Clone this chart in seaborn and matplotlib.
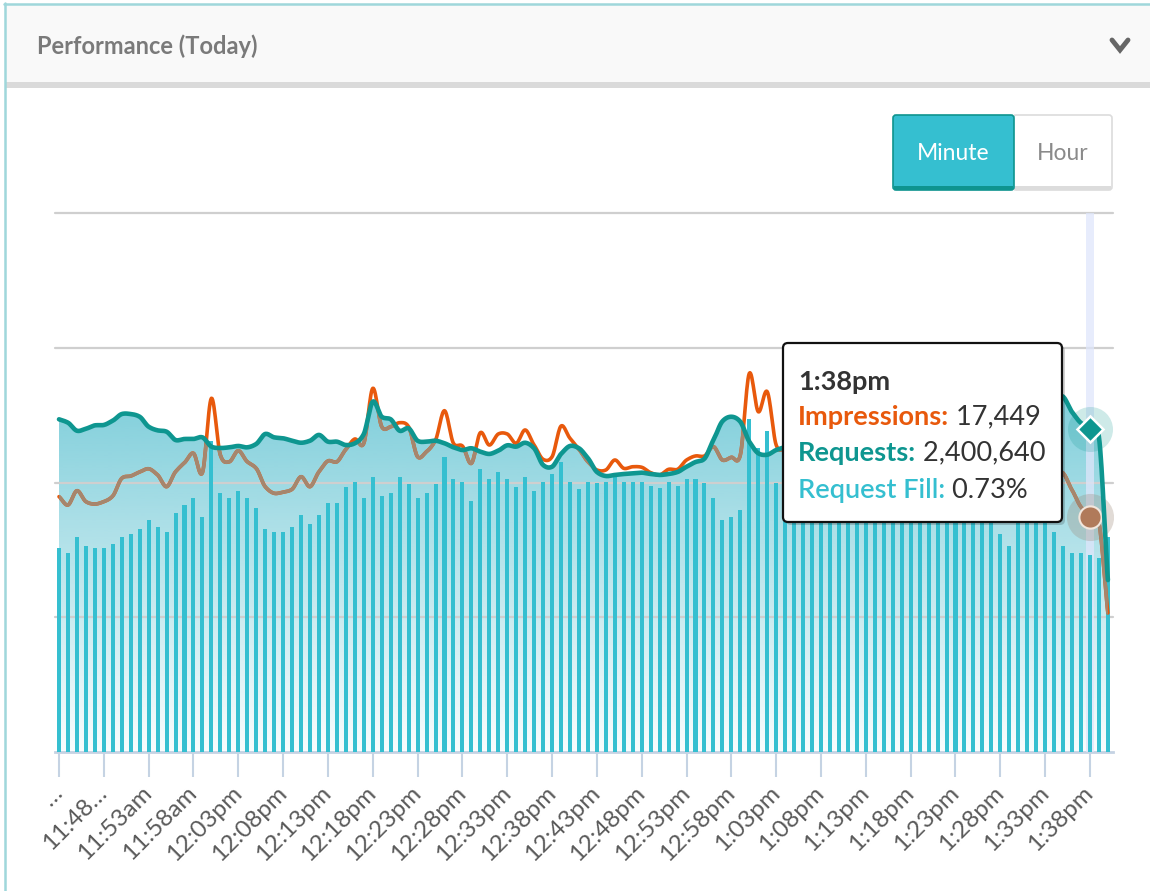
import numpy as np
import matplotlib
matplotlib.use("Agg")
import matplotlib.pyplot as plt
import seaborn as sns
from matplotlib.patches import Rectangle, FancyBboxPatch
from matplotlib.lines import Line2D
from matplotlib.text import Annotation
from matplotlib.transforms import IdentityTransform

# ---------------- data ----------------
# one point per minute, starting 11:43am
minute_offsets = list(range(118))

tick_minutes = list(range(0, 116, 5))
tick_labels = ["…", "11:48…", "11:53am", "11:58am", "12:03pm", "12:08pm", "12:13pm",
               "12:18pm", "12:23pm", "12:28pm", "12:33pm", "12:38pm", "12:43pm",
               "12:48pm", "12:53pm", "12:58pm", "1:03pm", "1:08pm", "1:13pm",
               "1:18pm", "1:23pm", "1:28pm", "1:33pm", "1:38pm"]

requests_m = [
    2.469, 2.444, 2.384, 2.399, 2.424, 2.427, 2.459, 2.508, 2.508, 2.488,
    2.414, 2.387, 2.377, 2.315, 2.323, 2.323, 2.335, 2.266, 2.256, 2.261,
    2.271, 2.261, 2.286, 2.360, 2.335, 2.328, 2.310, 2.295, 2.310, 2.353,
    2.303, 2.303, 2.278, 2.291, 2.360, 2.600, 2.488, 2.469, 2.384, 2.402,
    2.310, 2.303, 2.310, 2.291, 2.261, 2.241, 2.254, 2.229, 2.212, 2.236,
    2.276, 2.266, 2.295, 2.254, 2.130, 2.117, 2.212, 2.271, 2.254, 2.180,
    2.078, 2.048, 2.056, 2.063, 2.068, 2.073, 2.063, 2.056, 2.063, 2.078,
    2.117, 2.152, 2.177, 2.315, 2.454, 2.488, 2.451, 2.303, 2.217, 2.206,
    2.241, 2.263, 2.286, 2.315, 2.345, 2.375, 2.390, 2.404, 2.412, 2.419,
    2.427, 2.434, 2.434, 2.442, 2.449, 2.456, 2.464, 2.471, 2.479, 2.494,
    2.508, 2.523, 2.538, 2.553, 2.568, 2.583, 2.597, 2.612, 2.620, 2.627,
    2.635, 2.635, 2.637, 2.523, 2.442, 2.40064, 2.338, 1.276]

impressions_k = [
    18.95, 18.33, 19.39, 18.58, 18.40, 18.58, 19.00, 20.31, 20.48, 20.78,
    21.02, 20.56, 19.69, 20.80, 21.47, 22.17, 20.73, 26.25, 22.04, 21.54,
    22.36, 21.54, 21.05, 19.69, 19.20, 19.29, 19.50, 20.43, 19.69, 20.80,
    21.60, 21.54, 22.46, 23.23, 22.91, 26.99, 24.14, 24.14, 24.44, 24.14,
    21.91, 22.29, 23.15, 25.33, 22.91, 22.71, 21.42, 23.70, 22.78, 23.60,
    23.60, 22.91, 23.90, 22.78, 21.72, 21.91, 24.19, 23.28, 22.46, 21.54,
    20.93, 20.93, 21.67, 21.05, 21.17, 21.13, 20.73, 20.56, 20.98, 20.98,
    21.67, 21.97, 21.97, 22.66, 21.67, 21.87, 22.04, 28.10, 25.25, 26.74,
    22.78, 22.41, 22.04, 21.67, 21.52, 21.30, 21.22, 21.08, 20.93, 21.08,
    21.22, 21.30, 21.22, 21.08, 20.93, 20.93, 21.00, 21.08, 21.15, 21.22,
    21.30, 21.22, 21.15, 21.08, 21.00, 20.93, 20.93, 20.85, 20.78, 20.78,
    20.78, 20.78, 20.70, 19.44, 18.18, 17.449, 16.99, 10.32]

fill_pct = [
    0.756, 0.737, 0.799, 0.764, 0.756, 0.756, 0.773, 0.799, 0.809, 0.826,
    0.861, 0.836, 0.817, 0.888, 0.915, 0.942, 0.871, 1.155, 0.960, 0.942,
    0.968, 0.942, 0.906, 0.826, 0.817, 0.817, 0.836, 0.879, 0.845, 0.879,
    0.923, 0.923, 0.984, 1.003, 0.941, 1.022, 0.950, 0.960, 1.022, 0.994,
    0.941, 0.960, 0.994, 1.094, 1.012, 1.003, 0.932, 1.049, 1.012, 1.039,
    1.012, 0.984, 1.022, 0.968, 1.003, 1.030, 1.075, 1.003, 0.977, 1.003,
    0.998, 1.003, 1.022, 1.003, 1.003, 1.003, 0.987, 0.978, 1.003, 0.987,
    1.014, 1.014, 0.997, 0.941, 0.861, 0.871, 0.898, 1.236, 1.129, 1.191,
    0.997, 0.917, 0.891, 0.898, 0.913, 0.905, 0.883, 0.898, 0.909, 0.891,
    0.879, 0.898, 0.905, 0.891, 0.876, 0.887, 0.898, 0.883, 0.868, 0.891,
    0.902, 0.883, 0.868, 0.879, 0.891, 0.809, 0.764, 0.868, 0.879, 0.861,
    0.872, 0.817, 0.764, 0.738, 0.740, 0.73, 0.720, 0.799]

hover_index = 115
hover_time = "1:38pm"
hover_impressions = "17,449"
hover_requests = "2,400,640"
hover_fill = "0.73%"

# ---------------- style ----------------
C_BAR = "#35BFD0"
C_REQ = "#0E9690"
C_IMP = "#E8590C"
C_IMP_UNDER = "#a5866e"

sns.set_theme(style="white")
plt.rcParams["font.family"] = ["Lato", "DejaVu Sans"]

W, H = 1150, 891
fig = plt.figure(figsize=(W / 100, H / 100), dpi=100)
fig.patch.set_facecolor("white")


def prect(x0, y0, x1, y1, **kw):
    """rectangle in pixel coords (y from top)"""
    p = Rectangle((x0, H - y1), x1 - x0, y1 - y0, transform=IdentityTransform(), **kw)
    fig.patches.append(p)
    return p


def pbox(x0, y0, x1, y1, r, **kw):
    p = FancyBboxPatch((x0, H - y1), x1 - x0, y1 - y0,
                       boxstyle=f"round,pad=0,rounding_size={r}",
                       transform=IdentityTransform(), **kw)
    fig.patches.append(p)
    return p


def fx(x):
    return x / W


def fy(y):
    return 1 - y / H


# panel frame & header
prect(5, 4, 1150, 83, facecolor="#f9f9f9", edgecolor="none")
prect(5, 82, 1150, 88, facecolor="#dadada", edgecolor="none")
fig.add_artist(Line2D([fx(4.5), fx(4.5)], [fy(3), fy(891)], color="#9fd7db", lw=1.8))
fig.add_artist(Line2D([fx(4), fx(1150)], [fy(3.5), fy(3.5)], color="#9fd7db", lw=1.8))
fig.text(fx(37), fy(46), "Performance (Today)", fontsize=17, fontweight="bold",
         color="#7a7a7a", ha="left", va="center")
fig.add_artist(Line2D([fx(1112), fx(1120), fx(1128)], [fy(40), fy(50), fy(40)],
                      color="#666666", lw=3.5, solid_joinstyle="miter"))

# Minute / Hour buttons
pbox(1013, 115, 1112, 190, 3, facecolor="white", edgecolor="#dcdcdc", lw=1.2)
prect(1013, 186, 1111, 190, facecolor="#dcdcdc", edgecolor="none")
pbox(893, 115, 1014, 190, 3, facecolor=C_BAR, edgecolor="#0e948f", lw=1.2)
prect(894, 186, 1013, 190, facecolor="#0e948f", edgecolor="none")
fig.text(fx(953), fy(153), "Minute", fontsize=16.5, color="white", ha="center", va="center")
fig.text(fx(1063), fy(153), "Hour", fontsize=16.5, color="#8a8a8a", ha="center", va="center")


# ---------------- smooth spline helper (rendering only) ----------------
def spline(xv, yv, n=14, k=0.85):
    xv = np.asarray(xv, float)
    yv = np.asarray(yv, float)
    yp = np.concatenate([[2 * yv[0] - yv[1]], yv, [2 * yv[-1] - yv[-2]]])
    t = np.linspace(0, 1, n, endpoint=False)
    h00 = 2 * t**3 - 3 * t**2 + 1
    h10 = t**3 - 2 * t**2 + t
    h01 = -2 * t**3 + 3 * t**2
    h11 = t**3 - t**2
    ox, oy = [], []
    for j in range(len(xv) - 1):
        p1, p2 = yp[j + 1], yp[j + 2]
        m1 = k * (yp[j + 2] - yp[j]) / 2
        m2 = k * (yp[j + 3] - yp[j + 1]) / 2
        ox.append(xv[j] + t * (xv[j + 1] - xv[j]))
        oy.append(h00 * p1 + h10 * m1 + h01 * p2 + h11 * m2)
    ox.append([xv[-1]])
    oy.append([yv[-1]])
    return np.concatenate(ox), np.concatenate(oy)


# ---------------- main chart ----------------
rect_main = [55 / W, 1 - 752 / H, 1058 / W, 539 / H]
ax = fig.add_axes(rect_main)
ax_fill = fig.add_axes(rect_main)
ax_imp = fig.add_axes(rect_main)
ax_top = fig.add_axes(rect_main)

X0, X1 = -0.446, 117.57

xs_r, ys_r = spline(minute_offsets, requests_m)
xs_i, ys_i = spline(minute_offsets, impressions_k)

# gradient area under requests
poly = ax.fill_between(xs_r, 0, ys_r, facecolor="none", edgecolor="none")
clip_path = poly.get_paths()[0]
yy = np.linspace(0, 4, 300)
img = np.zeros((300, 1, 4))
img[:, 0, 0] = 47 / 255
img[:, 0, 1] = 176 / 255
img[:, 0, 2] = 196 / 255
img[:, 0, 3] = np.clip(0.03 + 0.22 * yy, 0, 0.7)
im = ax.imshow(img, extent=[X0, X1, 0, 4], origin="lower", aspect="auto",
               interpolation="bilinear", zorder=1)
im.set_clip_path(clip_path, ax.transData)

for v in [1, 2, 3, 4]:
    ax.axhline(v, color="#cfcfcf", lw=1.6, zorder=2, clip_on=False)
ax.axvspan(hover_index - 0.42, hover_index + 0.42, ymin=0, ymax=1,
           color="#dfe6fb", alpha=0.75, lw=0, zorder=3)

# bars: request fill
sns.barplot(x=minute_offsets, y=fill_pct, native_scale=True, width=0.45,
            color=C_BAR, saturation=1, ax=ax_fill, linewidth=0, edgecolor="none")

# impressions line (orange, brownish where under the requests area)
sns.lineplot(x=xs_i, y=ys_i, ax=ax_imp, color=C_IMP, lw=2.6, sort=False, estimator=None)
sns.lineplot(x=xs_i, y=ys_i, ax=ax_imp, color=C_IMP_UNDER, lw=2.6, sort=False, estimator=None)
ax_imp.lines[-1].set_clip_path(clip_path, ax.transData)

# requests line
sns.lineplot(x=xs_r, y=ys_r, ax=ax_top, color=C_REQ, lw=3.3, sort=False, estimator=None)

# hover markers
ax_imp.scatter([hover_index], [impressions_k[hover_index]], s=1150, color="#9c8878",
               alpha=0.3, lw=0, zorder=5)
ax_imp.plot([hover_index], [impressions_k[hover_index]], marker="o", ms=16,
            mfc="#b07a5a", mec="#f2e6dc", mew=1.5, zorder=6)
ax_top.scatter([hover_index], [requests_m[hover_index]], s=1050, color=C_REQ,
               alpha=0.2, lw=0, zorder=5)
ax_top.plot([hover_index], [requests_m[hover_index]], marker="D", ms=13,
            mfc=C_REQ, mec="white", mew=1.8, zorder=6)

for a in (ax, ax_fill, ax_imp, ax_top):
    a.set_xlim(X0, X1)
    a.set_facecolor("none")
    a.set_xlabel("")
    a.set_ylabel("")
ax.set_ylim(0, 4)
ax_top.set_ylim(0, 4)
ax_imp.set_ylim(0, 40)
ax_fill.set_ylim(0, 2)
for a in (ax_fill, ax_imp, ax_top):
    a.axis("off")

for s in ("left", "right", "top"):
    ax.spines[s].set_visible(False)
ax.spines["bottom"].set_color("#c5d3e3")
ax.spines["bottom"].set_linewidth(2)
ax.spines["bottom"].set_zorder(0)
ax.set_yticks([])
ax.set_xticks(tick_minutes)
ax.set_xticklabels(tick_labels, rotation=45, ha="right", va="center",
                   rotation_mode="anchor", fontsize=17.5, color="#5a5a5a")
ax.tick_params(axis="x", bottom=True, length=18, width=1.5, color="#c5d3e3", pad=9)

# ---------------- tooltip ----------------
pbox(786, 346, 1065, 525, 5, facecolor="#000000", alpha=0.18, edgecolor="none")
pbox(783, 343, 1062, 522, 5, facecolor="white", edgecolor="#111111", lw=1.6)
fs = 19.5
fig.text(fx(798), fy(390), hover_time, fontsize=fs, fontweight="bold",
         color="#333333", va="baseline", ha="left", zorder=5)
rows = [("Impressions:", hover_impressions, C_IMP, "bold", 425),
        ("Requests:", hover_requests, C_REQ, "bold", 461),
        ("Request Fill:", hover_fill, C_BAR, "semibold", 498)]
for lbl, val, col, wt, yb in rows:
    t = fig.text(fx(798), fy(yb), lbl, fontsize=fs, fontweight=wt, color=col,
                 va="baseline", ha="left", zorder=5)
    a = Annotation(" " + val, xy=(1, 0), xycoords=t, va="bottom", ha="left",
                   fontsize=fs, color="#333333", zorder=5)
    fig.add_artist(a)

fig.savefig("out.png", dpi=100)
